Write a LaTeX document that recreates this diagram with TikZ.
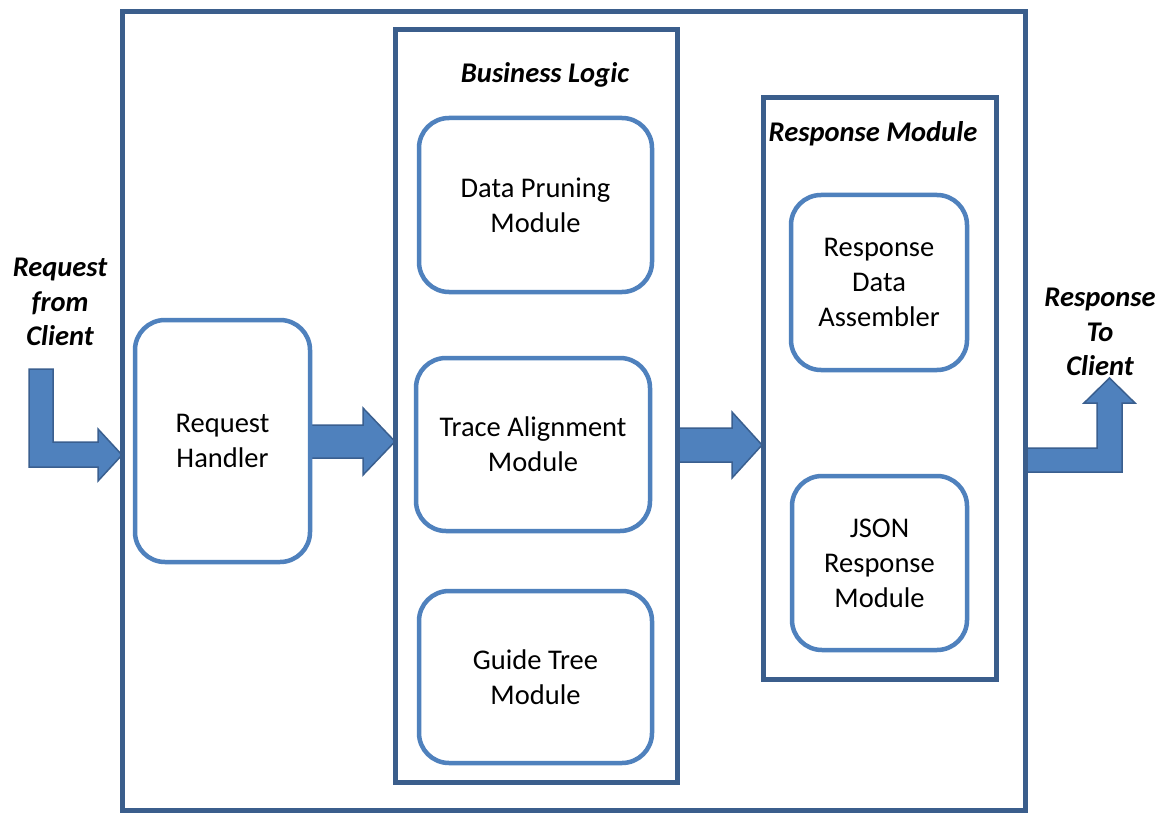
\documentclass[tikz,border=0pt]{standalone}
\usepackage{fontspec}
\setmainfont{Carlito}
\usetikzlibrary{positioning}
\definecolor{frameblue}{HTML}{3B5E8C}
\definecolor{boxblue}{HTML}{4F81BD}
\definecolor{arrowedge}{HTML}{3A5F8F}
\tikzset{
  container/.style={draw=frameblue, line width=5pt, rectangle, inner sep=0pt},
  module/.style={draw=boxblue, line width=4.5pt, rectangle, rounded corners=30pt,
    inner sep=0pt, align=center, font=\fontsize{28.5}{35}\selectfont},
  blockarrow/.style={fill=boxblue, draw=arrowedge, line width=1.5pt, line join=miter},
  caption/.style={align=center, font=\fontsize{28.5}{34.5}\selectfont\bfseries\itshape},
}
\begin{document}
\begin{tikzpicture}[x=1pt, y=-1pt]
\useasboundingbox (0,0) rectangle (1170,813);
\fill[white] (0,0) rectangle (1170,813);

% block arrows (drawn first so the frames sit on top)
\draw[blockarrow] (29,369) -- (53,369) -- (53,442) -- (98,442) -- (98,429)
  -- (122,455) -- (98,481) -- (98,467) -- (29,467) -- cycle;
\draw[blockarrow] (310,425) -- (363,425) -- (363,408) -- (395,441.5)
  -- (363,475) -- (363,458) -- (310,458) -- cycle;
\draw[blockarrow] (677,428) -- (732,428) -- (732,412) -- (762,445)
  -- (732,478) -- (732,462) -- (677,462) -- cycle;
\draw[blockarrow] (1027,448) -- (1097,448) -- (1097,403) -- (1084,403)
  -- (1109.5,378) -- (1135,403) -- (1122,403) -- (1122,472) -- (1027,472) -- cycle;

% frames
\node[container, minimum width=903pt, minimum height=798pt] (server) at (573.5,411) {};
\node[container, minimum width=282pt, minimum height=752pt] (bl) at (536,406) {};
\node[container, minimum width=233pt, minimum height=581pt] (rm) at (879.5,388.5) {};

\node[caption] (bltitle) at (545,75) {Business Logic};
\node[caption] (rmtitle) at (873,134) {Response Module};

% modules
\node[module, minimum width=175pt, minimum height=242pt] (rh) at (222.5,441) {Request\\Handler};
\node[module, minimum width=233pt, minimum height=174pt] (dp) at (535.5,205) {Data Pruning\\Module};
\node[module, minimum width=234pt, minimum height=173pt] (ta) at (533,444.5) {Trace Alignment\\Module};
\node[module, minimum width=233pt, minimum height=172pt] (gt) at (535.5,677) {Guide Tree\\Module};
\node[module, minimum width=176pt, minimum height=175pt] (rda) at (879,282.5) {Response\\Data\\Assembler};
\node[module, minimum width=175pt, minimum height=174pt] (json) at (879.5,563) {JSON\\Response\\Module};

% external labels
\node[caption] (req) at (60,302) {Request\\from\\Client};
\node[caption] (resp) at (1100,332) {Response\\To\\Client};
\end{tikzpicture}
\end{document}
